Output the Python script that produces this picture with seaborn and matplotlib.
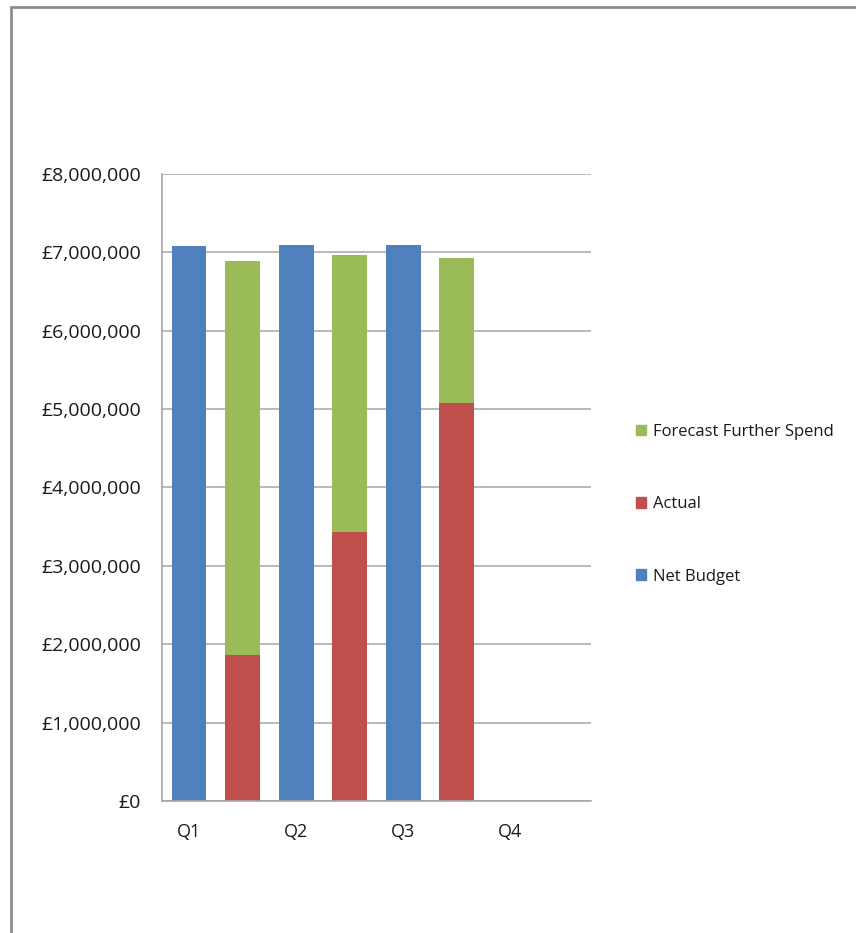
import numpy as np
import pandas as pd
import matplotlib
matplotlib.use("Agg")
import matplotlib.pyplot as plt
from matplotlib.patches import Rectangle, Patch
from matplotlib.ticker import FuncFormatter, MultipleLocator
import seaborn as sns

# data
quarters = ["Q1", "Q2", "Q3", "Q4"]
net_budget = [7080000, 7100000, 7100000, np.nan]
actual = [1860000, 3430000, 5080000, np.nan]
forecast = [5030000, 3540000, 1850000, np.nan]

BLUE = "#4F81BD"
RED = "#C0504D"
GREEN = "#9BBB59"
GRID = "#A6A6A6"

# each quarter has two slots: budget bar then spend bar
slots = list(range(2 * len(quarters)))
budget_df = pd.DataFrame({"slot": [2 * i for i in range(len(quarters))], "value": net_budget})
spend_df = pd.DataFrame({
    "slot": [2 * i + 1 for i in range(len(quarters))],
    "actual": actual,
    "total": np.array(actual) + np.array(forecast),
})

sns.set_theme(style="white")
plt.rcParams["font.family"] = ["Open Sans", "DejaVu Sans"]

fig = plt.figure(figsize=(8.56, 9.33), dpi=100)
ax = fig.add_axes([0.1896, 0.1415, 0.5004, 0.672])

kw = dict(order=slots, width=0.65, linewidth=0, saturation=1, ax=ax)
sns.barplot(data=budget_df, x="slot", y="value", color=BLUE, **kw)
sns.barplot(data=spend_df, x="slot", y="total", color=GREEN, **kw)
sns.barplot(data=spend_df, x="slot", y="actual", color=RED, **kw)

ax.set_xlim(-0.5, len(slots) - 0.5)
ax.set_ylim(0, 8000000)
ax.yaxis.set_major_locator(MultipleLocator(1000000))
ax.yaxis.set_major_formatter(FuncFormatter(lambda v, p: f"£{v:,.0f}"))
ax.set_xticks([2 * i for i in range(len(quarters))])
ax.set_xticklabels(quarters)
ax.set_xlabel("")
ax.set_ylabel("")
ax.tick_params(axis="y", length=0, pad=15.5, labelsize=14, colors="#1a1a1a")
ax.tick_params(axis="x", length=0, pad=16, labelsize=13, colors="#1a1a1a")
ax.grid(axis="y", color=GRID, linewidth=1.1)
ax.set_axisbelow(True)
for side in ["top", "right"]:
    ax.spines[side].set_visible(False)
for side in ["left", "bottom"]:
    ax.spines[side].set_color(GRID)
    ax.spines[side].set_linewidth(1.2)

handles = [Patch(color=GREEN), Patch(color=RED), Patch(color=BLUE)]
labels = ["Forecast Further Spend", "Actual", "Net Budget"]
fig.legend(handles, labels, loc="center left", bbox_to_anchor=(0.726, 0.4595),
           frameon=False, fontsize=12, handlelength=0.6, handleheight=0.6,
           handletextpad=0.4, labelspacing=3.38, labelcolor="#1a1a1a")

# outer chart frame
fig.patches.append(Rectangle((10.5 / 856, -0.05), 1.1, 0.993 + 0.05,
                             transform=fig.transFigure, fill=False,
                             edgecolor="#8C8C8C", linewidth=2))

fig.savefig("out.png", dpi=100)
